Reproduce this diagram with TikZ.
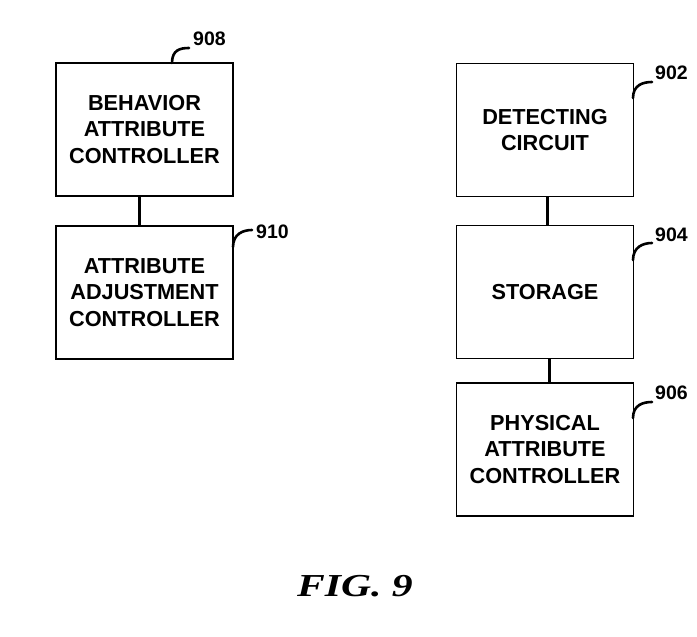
\documentclass[tikz,border=0pt]{standalone}
\usepackage{fontspec}
\setmainfont{Liberation Sans}
\newfontfamily\figfont{Liberation Serif}
\usetikzlibrary{calc}
\begin{document}
\begin{tikzpicture}[x=1pt,y=-1pt,
  blockbox/.style={draw=black,line width=1.8pt,minimum width=177pt,minimum height=133pt,
    align=center,inner sep=0pt,font=\fontsize{21.7}{26.7}\selectfont\bfseries},
  link/.style={line width=3pt},
  hook/.style={line width=2.6pt,line cap=round},
  reflabel/.style={anchor=west,inner sep=0pt,font=\fontsize{19.5}{22}\selectfont\bfseries}]
\useasboundingbox (0,0) rectangle (697,637);
% left column
\node[blockbox] (b908) at (144.5,129.5) {BEHAVIOR\\ATTRIBUTE\\CONTROLLER};
\node[blockbox] (b910) at (144.5,292.5) {ATTRIBUTE\\ADJUSTMENT\\CONTROLLER};
% right column
\node[blockbox] (b902) at (545,130) {DETECTING\\CIRCUIT};
\node[blockbox] (b904) at (545,292) {STORAGE};
\node[blockbox] (b906) at (545,449.5) {PHYSICAL\\ATTRIBUTE\\CONTROLLER};
% connectors
\draw[link] (b908.south -| 139,0) -- (b910.north -| 139,0);
\draw[link] (b902.south -| 547,0) -- (b904.north -| 547,0);
\draw[link] (b904.south -| 549,0) -- (b906.north -| 549,0);
% reference labels
\coordinate (h908a) at (172,63);  \coordinate (h908b) at (189,48);
\coordinate (h910a) at (233,247); \coordinate (h910b) at (252,230);
\coordinate (h902a) at (633,98);  \coordinate (h902b) at (652,82);
\coordinate (h904a) at (633,260); \coordinate (h904b) at (652,243);
\coordinate (h906a) at (633,418); \coordinate (h906b) at (652,402);
\foreach \n in {908,910,902,904,906}{
  \draw[hook] (h\n a) .. controls ($(h\n a)+(0,-13)$) and ($(h\n b)+(-9,0)$) .. (h\n b);
}
\node[reflabel] (l908) at (193,39) {908};
\node[reflabel] (l910) at (256,232) {910};
\node[reflabel] (l902) at (655,73) {902};
\node[reflabel] (l904) at (655,235) {904};
\node[reflabel] (l906) at (655,393) {906};
% figure caption
\node[inner sep=0pt] (cap) at (355,586) {\scalebox{1.3}[1]{\figfont\fontsize{32}{36}\selectfont\bfseries\itshape FIG. 9}};
\end{tikzpicture}
\end{document}
